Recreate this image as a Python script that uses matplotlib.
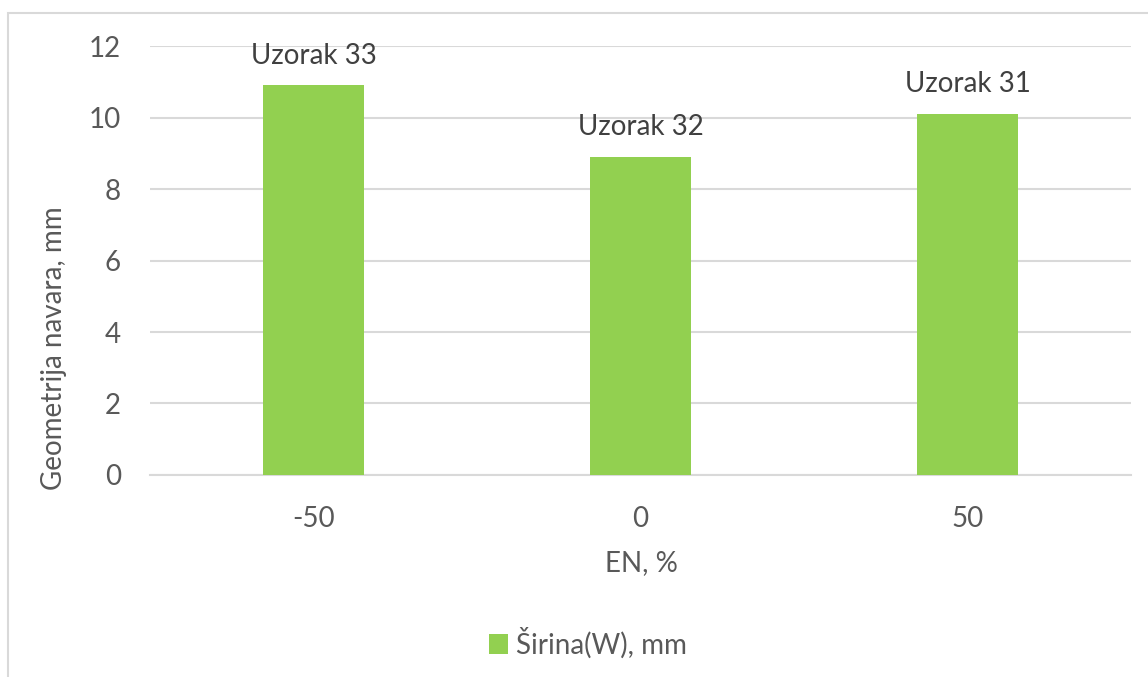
import numpy as np
import matplotlib
matplotlib.use('Agg')
import matplotlib.pyplot as plt
from matplotlib.patches import Rectangle

plt.rcParams['font.family'] = ['Lato', 'DejaVu Sans']

# podaci
en = ['-50', '0', '50']
sirina = [10.9, 8.9, 10.1]
uzorci = ['Uzorak 33', 'Uzorak 32', 'Uzorak 31']

siva = '#595959'
zelena = '#92D050'
mreza = '#D9D9D9'

fig = plt.figure(figsize=(11.48, 6.77), dpi=100)
ax = fig.add_axes([0.1307, 0.2984, 0.8545, 0.6336])

x = np.arange(len(en))
bars = ax.bar(x, sirina, width=0.31, color=zelena, zorder=3, label='Širina(W), mm')

ax.set_xlim(-0.5, 2.5)
ax.set_ylim(0, 12)
ax.set_yticks(range(0, 13, 2))
ax.set_xticks(x)
ax.set_xticklabels(en)
ax.grid(axis='y', color=mreza, linewidth=1.5, zorder=0)
for s in ['top', 'right', 'left']:
    ax.spines[s].set_visible(False)
ax.spines['bottom'].set_color(mreza)
ax.spines['bottom'].set_linewidth(1.5)
ax.tick_params(axis='both', length=0, labelsize=20, labelcolor=siva)
ax.tick_params(axis='x', pad=22)
ax.tick_params(axis='y', pad=21)

for b, t in zip(bars, uzorci):
    ax.annotate(t, (b.get_x() + b.get_width() / 2, b.get_height()),
                xytext=(0, 12), textcoords='offset points',
                ha='center', va='bottom', fontsize=20, color='#404040')

fig.text(54 / 1148, 1 - 348 / 677, 'Geometrija navara, mm', rotation=90,
         ha='center', va='center', fontsize=20, color=siva)
fig.text(641 / 1148, 1 - 563 / 677, 'EN, %', ha='center', va='center',
         fontsize=20, color=siva)

fig.legend(handles=[bars], labels=['Širina(W), mm'], loc='center',
           bbox_to_anchor=(588 / 1148, 1 - 643 / 677), frameon=False,
           fontsize=20, labelcolor=siva, handlelength=0.7, handleheight=0.7,
           handletextpad=0.3)

# okvir grafikona
fig.patches.append(Rectangle((8 / 1148, -0.1), 1.2, 1 - 13 / 677 + 0.1,
                             transform=fig.transFigure, fill=False,
                             edgecolor=mreza, linewidth=1.5))

fig.savefig('out.png', dpi=100)
